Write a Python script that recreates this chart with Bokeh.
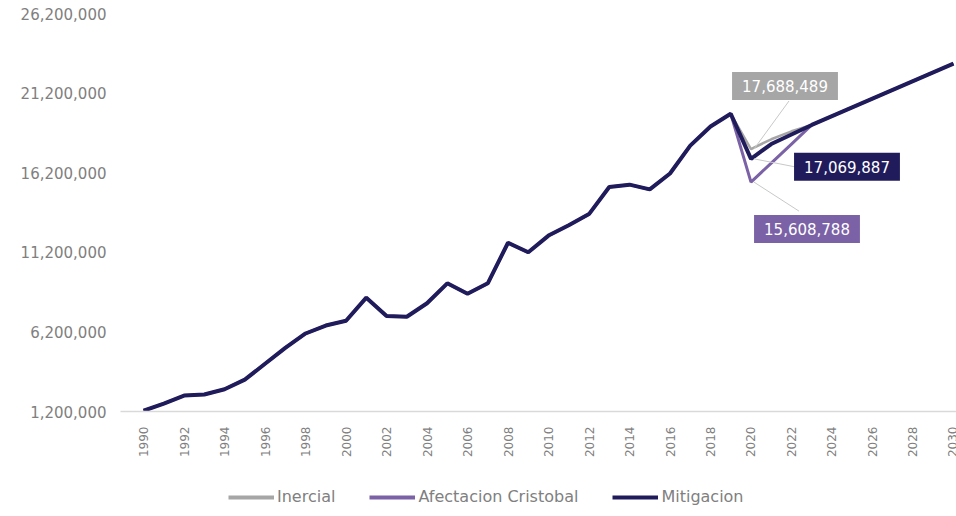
from bokeh.plotting import figure
from bokeh.layouts import column
from bokeh.models import (FixedTicker, NumeralTickFormatter, Legend, LegendItem,
                          Label, Range1d, ColumnDataSource)
from bokeh.embed import file_html
from bokeh.resources import INLINE
import math

# ---- data ----
years = list(range(1990, 2031))
mitigacion = [1250000, 1700000, 2200000, 2270000, 2600000, 3200000, 4200000, 5200000,
              6100000, 6600000, 6900000, 8350000, 7200000, 7150000, 8000000, 9250000,
              8600000, 9250000, 11800000, 11200000, 12250000, 12900000, 13600000,
              15300000, 15450000, 15150000, 16150000, 17900000, 19100000, 19900000,
              17069887, 18000000, 18600000, 19200000, 19750000, 20300000, 20850000,
              21400000, 21950000, 22500000, 23050000]
afectacion = mitigacion[:30] + [15608788, 16800000, 18000000] + mitigacion[33:]
inercial = mitigacion[:30] + [17688489, 18300000, 18800000] + mitigacion[33:]

y_ticks = [1200000, 6200000, 11200000, 16200000, 21200000, 26200000]
x_ticks = list(range(1990, 2031, 2))
series_names = ["Inercial", "Afectacion Cristobal", "Mitigacion"]

# ---- styles ----
C_INER = "#a6a6a6"
C_AFEC = "#7b62a6"
C_MITI = "#201c5c"
TXT = "#808080"
FONT = "DejaVu Sans"

x0, x1 = 1988.86, 2030.15
y0, y1 = 1200000, 26200000
FW, FH = 836, 398

p = figure(frame_width=FW, frame_height=FH, output_backend="svg", toolbar_location=None,
           x_range=Range1d(x0, x1), y_range=Range1d(y0, y1),
           min_border_left=120, min_border_right=0, min_border_top=13,
           min_border_bottom=49)
p.outline_line_color = None
p.grid.visible = False
p.background_fill_color = "white"
p.border_fill_color = "white"

# axes
p.yaxis.ticker = FixedTicker(ticks=y_ticks)
p.yaxis.formatter = NumeralTickFormatter(format="0,0")
p.yaxis.axis_line_color = None
p.yaxis.major_tick_line_color = None
p.yaxis.minor_tick_line_color = None
p.yaxis.major_label_standoff = 8
p.yaxis.major_label_text_font = FONT
p.yaxis.major_label_text_font_size = "15px"
p.yaxis.major_label_text_color = TXT

p.xaxis.ticker = FixedTicker(ticks=x_ticks)
p.xaxis.axis_line_color = "#d9d9d9"
p.xaxis.axis_line_width = 1.5
p.xaxis.major_tick_line_color = None
p.xaxis.minor_tick_line_color = None
p.xaxis.major_label_orientation = math.pi / 2
p.xaxis.major_label_standoff = 9
p.xaxis.major_label_text_font = FONT
p.xaxis.major_label_text_font_size = "12px"
p.xaxis.major_label_text_color = TXT

src = ColumnDataSource(dict(x=years, m=mitigacion, a=afectacion, i=inercial))
r_i = p.line("x", "i", source=src, line_color=C_INER, line_width=2.5)
r_a = p.line("x", "a", source=src, line_color=C_AFEC, line_width=3)
r_m = p.line("x", "m", source=src, line_color=C_MITI, line_width=4)

# ---- annotations (callouts for 2020) ----
ppx = FW / (x1 - x0)          # px per year
ppy = FH / (y1 - y0)          # px per unit

idx = years.index(2020)
callouts = [
    (inercial[idx], C_INER, 34, 63, (4, -15)),
    (mitigacion[idx], C_MITI, 96, -8, (-52, 0)),
    (afectacion[idx], C_AFEC, 56, -47, (-8, 18)),
]
for val, col, dx, dy, (lx, ly) in callouts:
    ex = dx + lx
    ey = dy + ly
    p.segment(x0=[2020 + 3 / ppx], y0=[val], x1=[2020 + ex / ppx], y1=[val + ey / ppy],
              line_color="#c8c8c8", line_width=1)
    p.add_layout(Label(x=2020, y=val, x_offset=dx, y_offset=dy,
                       text=f"{val:,}", text_align="center", text_baseline="middle",
                       text_font=FONT, text_font_size="15px", text_color="white",
                       background_fill_color=col, background_fill_alpha=1.0,
                       padding=(10, 8)))

# ---- legend strip below the chart ----
lg = figure(width=956, height=56, output_backend="svg", toolbar_location=None,
            x_range=Range1d(0, 1), y_range=Range1d(0, 1),
            x_axis_type=None, y_axis_type=None,
            min_border=0, min_border_left=0, min_border_right=0,
            min_border_top=0, min_border_bottom=0)
lg.outline_line_color = None
lg.grid.visible = False
lsrc = ColumnDataSource(dict(x=years, m=mitigacion, a=afectacion, i=inercial))
d_i = lg.line("x", "i", source=lsrc, line_color=C_INER, line_width=4)
d_a = lg.line("x", "a", source=lsrc, line_color=C_AFEC, line_width=4)
d_m = lg.line("x", "m", source=lsrc, line_color=C_MITI, line_width=4)
legend = Legend(items=[LegendItem(label=series_names[0], renderers=[d_i]),
                       LegendItem(label=series_names[1], renderers=[d_a]),
                       LegendItem(label=series_names[2], renderers=[d_m])],
                orientation="horizontal", location=(108, 10),
                glyph_width=46, glyph_height=16, label_standoff=3, spacing=34,
                label_text_font=FONT, label_text_font_size="16px",
                label_text_color=TXT, border_line_color=None,
                background_fill_alpha=0, margin=0, padding=2)
lg.add_layout(legend, "center")

layout = column(p, lg, spacing=0)
open("out.html", "w").write(file_html(layout, INLINE))
